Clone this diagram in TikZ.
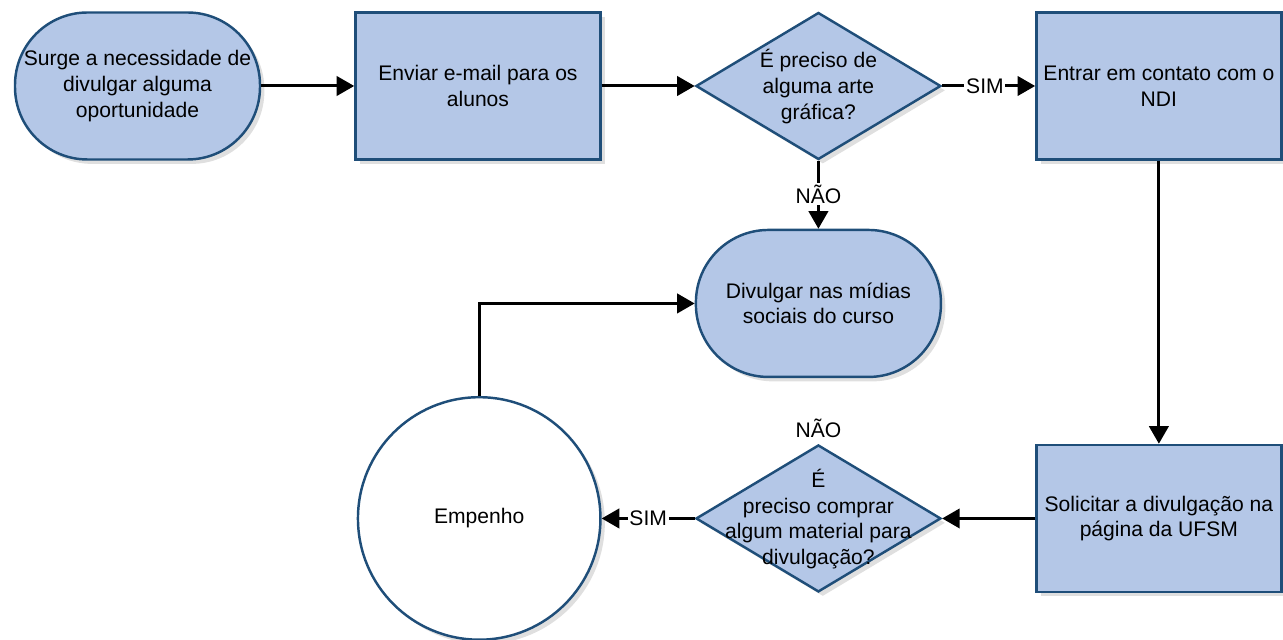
\documentclass[tikz,border=0pt]{standalone}
\usepackage{fontspec}
\setmainfont{Liberation Sans}
\usetikzlibrary{shapes, arrows.meta, positioning, shadows}
\definecolor{fundo}{HTML}{B4C7E7}
\definecolor{borda}{HTML}{1F4E79}
\tikzstyle{base} = [draw=borda, line width=1.4pt, fill=fundo, align=center, font=\fontsize{12}{14.6}\selectfont, drop shadow={opacity=0.25, shadow xshift=2.5pt, shadow yshift=-2.5pt}]
\tikzstyle{rect} = [base, rectangle, minimum width=4.9cm, minimum height=2.94cm]
\tikzstyle{term} = [base, rectangle, rounded corners=1.45cm, minimum width=4.9cm, minimum height=2.94cm]
\tikzstyle{decisao} = [base, diamond, minimum width=4.9cm, minimum height=2.94cm, inner sep=0pt]
\tikzstyle{circ} = [base, circle, fill=white, minimum size=4.85cm]
\tikzstyle{line} = [draw, line width=1.7pt, -{Triangle[length=10pt, width=11pt]}]
\tikzstyle{rotulo} = [fill=white, inner sep=1pt, font=\fontsize{12}{14.6}\selectfont]
\newcommand{\dtexto}[1]{\raisebox{-8.5pt}{\smash{\makebox[0pt]{\begin{tabular}{@{}c@{}}#1\end{tabular}}}}}

\begin{document}
\begin{tikzpicture}[node distance=1.86cm]
	\useasboundingbox (-2.75,1.72) rectangle (22.91,-11.08);
	\node [term] (surge) {Surge a necessidade de\\divulgar alguma\\oportunidade};
	\node [rect, right=of surge] (email) {Enviar e-mail para os\\alunos};
	\node [decisao, right=of email] (arte) {\dtexto{É preciso de\\alguma arte\\gráfica?}};
	\node [rect, right=of arte] (ndi) {Entrar em contato com o\\NDI};
	\node [term, below=1.36cm of arte] (midias) {Divulgar nas mídias\\sociais do curso};
	\node [rect, below=5.66cm of ndi] (solicitar) {Solicitar a divulgação na\\página da UFSM};
	\node [decisao, left=of solicitar] (comprar) {\dtexto{É\\preciso comprar\\algum material para\\divulgação?}};
	\node [circ, left=of comprar] (empenho) {Empenho};
	\node [rotulo, inner sep=0pt, above=3pt of comprar.north] (nao2) {NÃO};
	
	\path [line] (surge) -- (email);
	\path [line] (email) -- (arte);
	\path [line] (arte) -- node [rotulo, pos=0.46] {SIM} (ndi);
	\path [line] (arte) -- node [rotulo, pos=0.49] {NÃO} (midias);
	\path [line] (ndi) -- (solicitar);
	\path [line] (solicitar) -- (comprar);
	\path [line] (comprar) -- node [rotulo] {SIM} (empenho);
	\path [line] (empenho.north) |- (midias.west);
\end{tikzpicture}
\end{document}
